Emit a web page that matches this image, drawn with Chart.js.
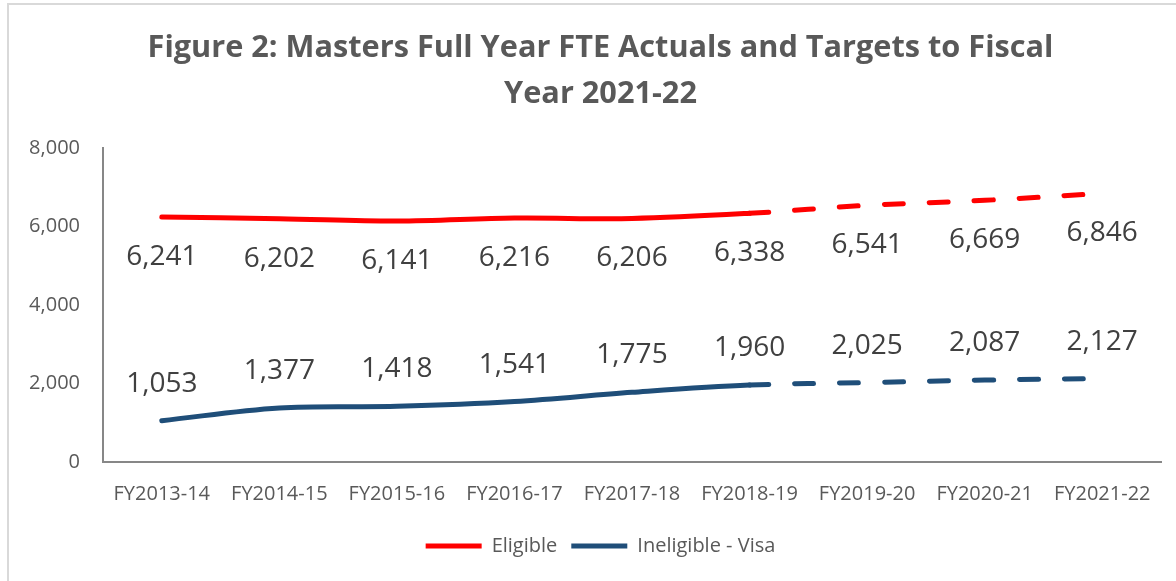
<!DOCTYPE html>
<html lang="en">
<head>
  <meta charset="UTF-8">
  <title>Figure 2: Masters Full Year FTE</title>
  <script src="https://cdn.jsdelivr.net/npm/chart.js"></script>
  <style>
    html, body {
      margin: 0;
      padding: 0;
      background: #ffffff;
    }
    .wrap {
      position: relative;
      width: 1176px;
      height: 581px;
    }
  </style>
</head>
<body>
  <div class="wrap">
    <canvas id="fteChart" width="1176" height="581"></canvas>
  </div>

  <script>
    const years = ["FY2013-14", "FY2014-15", "FY2015-16", "FY2016-17", "FY2017-18",
                   "FY2018-19", "FY2019-20", "FY2020-21", "FY2021-22"];
    const eligible = [6241, 6202, 6141, 6216, 6206, 6338, 6541, 6669, 6846];
    const ineligibleVisa = [1053, 1377, 1418, 1541, 1775, 1960, 2025, 2087, 2127];
    const yTicks = [0, 2000, 4000, 6000, 8000];
    const lastActual = 5; // FY2018-19, targets after this are dashed

    const grey = "#595959";

    // frame like the excel chart border (only top/left visible)
    const framePlugin = {
      id: "frame",
      beforeDraw(chart) {
        const c = chart.ctx;
        c.save();
        c.fillStyle = "#ffffff";
        c.fillRect(0, 0, chart.width, chart.height);
        c.strokeStyle = "#d9d9d9";
        c.lineWidth = 2;
        c.beginPath();
        c.moveTo(8, chart.height);
        c.lineTo(8, 4);
        c.lineTo(chart.width, 4);
        c.stroke();
        c.restore();
      },
      // left padding keeps title/legend centred like excel; let the y labels use that room
      afterLayout(chart) {
        chart.scales.y.left = 0;
      }
    };

    // value labels: below the red line, above the blue line
    const valueLabels = {
      id: "valueLabels",
      afterDatasetsDraw(chart) {
        const c = chart.ctx;
        c.save();
        c.font = "28px 'Open Sans'";
        c.fillStyle = "#404040";
        c.textAlign = "center";
        c.textBaseline = "middle";
        chart.data.datasets.forEach((ds, i) => {
          const meta = chart.getDatasetMeta(i);
          const off = ds.labelOffset;
          meta.data.forEach((pt, j) => {
            c.fillText(ds.data[j].toLocaleString("en-US"), pt.x, pt.y + off);
          });
        });
        c.restore();
      }
    };

    const dashAfterActual = ctx => ctx.p0DataIndex >= lastActual ? [19, 26] : undefined;

    new Chart(document.getElementById("fteChart"), {
      type: "line",
      data: {
        labels: years,
        datasets: [
          {
            label: "Eligible",
            data: eligible,
            borderColor: "#ff0000",
            backgroundColor: "#ff0000",
            borderWidth: 5,
            borderCapStyle: "round",
            pointRadius: 0,
            tension: 0.35,
            labelOffset: 40,
            segment: { borderDash: dashAfterActual }
          },
          {
            label: "Ineligible - Visa",
            data: ineligibleVisa,
            borderColor: "#1f4e79",
            backgroundColor: "#1f4e79",
            borderWidth: 5,
            borderCapStyle: "round",
            pointRadius: 0,
            tension: 0.35,
            labelOffset: -37,
            segment: { borderDash: dashAfterActual }
          }
        ]
      },
      options: {
        responsive: false,
        animation: false,
        layout: { padding: { left: 40, right: 15, top: 0, bottom: 15 } },
        plugins: {
          title: {
            display: true,
            text: ["Figure 2: Masters Full Year FTE Actuals and Targets to Fiscal", "Year 2021-22"],
            color: grey,
            font: { family: "'Open Sans'", size: 30.7, weight: "bold", lineHeight: 1.5 },
            padding: { top: 25, bottom: 31 }
          },
          legend: {
            position: "bottom",
            labels: {
              usePointStyle: true,
              pointStyle: "line",
              pointStyleWidth: 56,
              color: grey,
              font: { family: "'Open Sans'", size: 20 },
              padding: 14
            }
          },
          tooltip: { enabled: false }
        },
        scales: {
          x: {
            offset: true,
            grid: { display: false, drawTicks: false, offset: true },
            border: { display: true, color: "#878787", width: 2 },
            ticks: {
              color: grey,
              font: { family: "'Open Sans'", size: 20 },
              padding: 20,
              autoSkip: false,
              maxRotation: 0
            },
            afterFit(scale) { scale.height = 60; }
          },
          y: {
            min: 0,
            max: 8000,
            grid: { display: false, drawTicks: false },
            border: { display: true, color: "#878787", width: 2 },
            afterBuildTicks(scale) { scale.ticks = yTicks.map(v => ({ value: v })); },
            ticks: {
              color: grey,
              font: { family: "'Open Sans'", size: 20 },
              padding: 23,
              callback: v => v.toLocaleString("en-US")
            },
            afterFit(scale) { scale.width = 63; }
          }
        }
      },
      plugins: [framePlugin, valueLabels]
    });
  </script>
</body>
</html>
